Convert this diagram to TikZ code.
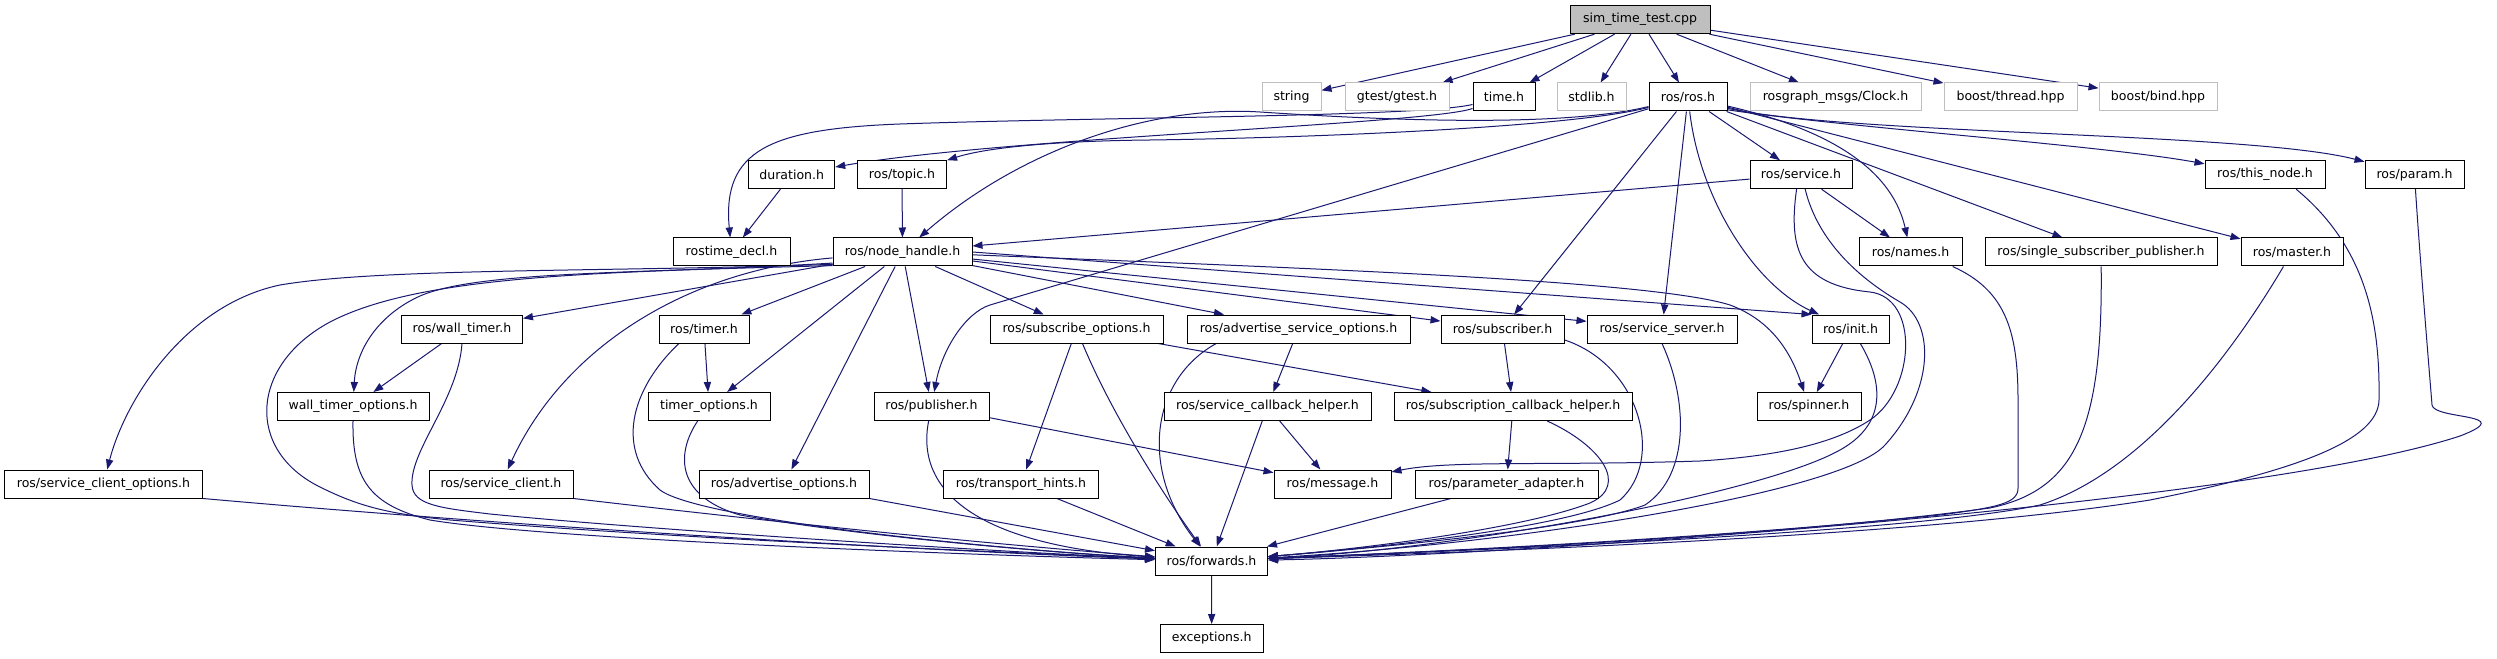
\documentclass[tikz,border=0pt]{standalone}
\usepackage{fontspec}
\setmainfont{DejaVu Sans}
\usetikzlibrary{arrows.meta}
\definecolor{edgeblue}{HTML}{191970}
\definecolor{nofilegrey}{HTML}{BFBFBF}
\pgfdeclarelayer{back}
\pgfsetlayers{back,main}

\tikzset{
  file/.style={draw=black, fill=white, line width=0.75pt, inner sep=0pt,
    minimum height=21pt, font=\fontsize{9.4pt}{11pt}\selectfont},
  nofile/.style={file, draw=nofilegrey},
  root/.style={file, fill=nofilegrey},
  wd/.style={minimum width=#1*0.75pt},
  inc/.style={draw=edgeblue, line width=0.75pt,
    -{Triangle[length=7.5pt,width=5.4pt]}},
}

\begin{document}
\begin{tikzpicture}[x=0.75pt, y=-0.75pt]
    % top file and its includes
    \node[root, wd=140] (sim) at (1640,19.7) {sim\_time\_test.cpp};
    \node[nofile, wd=59] (string) at (1291.5,97) {string};
    \node[nofile, wd=104] (gtest) at (1397,97) {gtest/gtest.h};
    \node[file, wd=62] (time) at (1504,97) {time.h};
    \node[nofile, wd=69] (stdlib) at (1591.5,97) {stdlib.h};
    \node[file, wd=78] (ros) at (1688,97) {ros/ros.h};
    \node[nofile, wd=171] (clock) at (1835.5,97) {rosgraph\_msgs/Clock.h};
    \node[nofile, wd=133] (thread) at (2010.5,97) {boost/thread.hpp};
    \node[nofile, wd=118] (bind) at (2158,97) {boost/bind.hpp};
    % second row
    \node[file, wd=86] (duration) at (791.7,174.7) {duration.h};
    \node[file, wd=89.5] (topic) at (902,174.7) {ros/topic.h};
    \node[file, wd=102] (service) at (1801,174.7) {ros/service.h};
    \node[file, wd=120] (thisnode) at (2265,174.7) {ros/this\_node.h};
    \node[file, wd=99] (param) at (2414.5,174.7) {ros/param.h};
    % third row
    \node[file, wd=117] (rostimedecl) at (731.5,252) {rostime\_decl.h};
    \node[file, wd=139] (nodehandle) at (902.5,252) {ros/node\_handle.h};
    \node[file, wd=103] (names) at (1910.5,252) {ros/names.h};
    \node[file, wd=232] (single) at (2101,252) {ros/single\_subscriber\_publisher.h};
    \node[file, wd=102] (master) at (2292,252) {ros/master.h};
    % fourth row
    \node[file, wd=121] (walltimer) at (462,329) {ros/wall\_timer.h};
    \node[file, wd=90] (timer) at (704,329) {ros/timer.h};
    \node[file, wd=173] (subopts) at (1076.5,329) {ros/subscribe\_options.h};
    \node[file, wd=223] (advsrvopts) at (1298.5,329) {ros/advertise\_service\_options.h};
    \node[file, wd=123] (subscriber) at (1502.5,329) {ros/subscriber.h};
    \node[file, wd=150] (srvserver) at (1662,329) {ros/service\_server.h};
    \node[file, wd=77] (init) at (1850.5,329) {ros/init.h};
    % fifth row
    \node[file, wd=152] (walltimeropts) at (353,406.5) {wall\_timer\_options.h};
    \node[file, wd=122] (timeropts) at (709,406.5) {timer\_options.h};
    \node[file, wd=115] (publisher) at (931.5,406.5) {ros/publisher.h};
    \node[file, wd=207] (srvcbhelper) at (1267.5,406.5) {ros/service\_callback\_helper.h};
    \node[file, wd=238] (subcbhelper) at (1513,406.5) {ros/subscription\_callback\_helper.h};
    \node[file, wd=104] (spinner) at (1809,406.5) {ros/spinner.h};
    % sixth row
    \node[file, wd=198] (srvclientopts) at (103.5,484) {ros/service\_client\_options.h};
    \node[file, wd=144] (srvclient) at (501,484) {ros/service\_client.h};
    \node[file, wd=170] (advopts) at (784,484) {ros/advertise\_options.h};
    \node[file, wd=155] (transport) at (1021,484) {ros/transport\_hints.h};
    \node[file, wd=117] (message) at (1332.5,484) {ros/message.h};
    \node[file, wd=183] (paramadapter) at (1506.5,484) {ros/parameter\_adapter.h};
    % bottom
    \node[file, wd=112] (forwards) at (1211.5,561) {ros/forwards.h};
    \node[file, wd=103] (exceptions) at (1211.7,638.5) {exceptions.h};

    \begin{pgfonlayer}{back}
    \path[use as bounding box, fill=white] (0,0) rectangle (2497,659);
    % includes of the test file
    \foreach \t in {string,gtest,time,stdlib,ros,clock,thread,bind}
        \draw[inc] (sim) -- (\t);
    % time.h
    \draw[inc] (time) .. controls (1430,124) and (1000,138) .. (duration);
    \draw[inc] (time) .. controls (1420,117) and (1100,117) .. (900,124)
        .. controls (770,129) and (722,150) .. (rostimedecl);
    \draw[inc] (duration) -- (rostimedecl);
    % ros/ros.h
    \draw[inc] (ros) .. controls (1570,128) and (1300,138) .. (1150,140)
        .. controls (1050,141) and (985,148) .. (topic);
    \draw[inc] (ros) .. controls (1560,128) and (1380,120) .. (1260,112)
        .. controls (1150,105) and (1020,150) .. (nodehandle);
    \draw[inc] (ros) -- (990,305) .. controls (965,313) and (942,350) .. (publisher);
    \draw[inc] (ros) -- (subscriber);
    \draw[inc] (ros) -- (srvserver);
    \draw[inc] (ros) .. controls (1700,200) and (1755,285) .. (init);
    \draw[inc] (ros) -- (service);
    \draw[inc] (ros) .. controls (1810,125) and (1890,160) .. (names);
    \draw[inc] (ros) -- (single);
    \draw[inc] (ros) -- (master);
    \draw[inc] (ros.-18) .. controls (1850,128) and (2100,145) .. (thisnode);
    \draw[inc] (ros.-16) .. controls (1850,135) and (2250,132) .. (param);
    \draw[inc] (topic) -- (nodehandle);
    % ros/service.h
    \draw[inc] (service) -- (nodehandle);
    \draw[inc] (service) -- (names);
    \draw[inc] (service.-107) .. controls (1788,250) and (1800,285) .. (1870,292)
        .. controls (1920,298) and (1915,390) .. (1870,420)
        .. controls (1835,443) and (1780,456) .. (1700,461)
        .. controls (1550,466) and (1450,460) .. (message);
    \draw[inc] (service.-74) .. controls (1815,230) and (1845,270) .. (1900,302)
        .. controls (1935,322) and (1935,390) .. (1885,445)
        .. controls (1840,495) and (1500,545) .. (forwards);
    % ros/init.h
    \draw[inc] (init) -- (spinner);
    \draw[inc] (init.-56) .. controls (1885,385) and (1885,425) .. (1840,450)
        .. controls (1760,495) and (1450,550) .. (forwards);
    % ros/node_handle.h
    \draw[inc] (nodehandle.190) .. controls (600,272) and (380,268) .. (280,285)
        .. controls (185,305) and (125,400) .. (srvclientopts);
    \draw[inc] (nodehandle.189) .. controls (650,274) and (480,270) .. (420,296)
        .. controls (378,315) and (356,350) .. (walltimeropts);
    \draw[inc] (nodehandle.191) .. controls (600,272) and (420,275) .. (330,322)
        .. controls (250,365) and (245,450) .. (320,487)
        .. controls (360,507) and (390,514) .. (450,520)
        .. controls (700,540) and (1000,552) .. (forwards);
    \draw[inc] (nodehandle) -- (walltimer);
    \draw[inc] (nodehandle) -- (timer);
    \draw[inc] (nodehandle) -- (timeropts);
    \draw[inc] (nodehandle) .. controls (690,270) and (565,345) .. (srvclient);
    \draw[inc] (nodehandle) -- (advopts);
    \draw[inc] (nodehandle) -- (publisher);
    \draw[inc] (nodehandle) -- (subopts);
    \draw[inc] (nodehandle) -- (advsrvopts);
    \draw[inc] (nodehandle) -- (subscriber);
    \draw[inc] (nodehandle) -- (srvserver);
    \draw[inc] (nodehandle.east) -- (init.north west);
    \draw[inc] (nodehandle) .. controls (1300,268) and (1650,280) .. (1730,305)
        .. controls (1770,320) and (1790,350) .. (spinner);
    % timers
    \draw[inc] (walltimer) -- (walltimeropts);
    \draw[inc] (walltimer.south) .. controls (458,400) and (410,450) .. (412,485)
        .. controls (413,505) and (440,508) .. (490,514)
        .. controls (650,530) and (1000,552) .. (forwards);
    \draw[inc] (timer) -- (timeropts);
    \draw[inc] (timer.-150) .. controls (630,390) and (615,450) .. (660,490)
        .. controls (700,520) and (1000,550) .. (forwards);
    \draw[inc] (walltimeropts.south) .. controls (352,480) and (370,505) .. (430,520)
        .. controls (550,540) and (1000,556) .. (forwards);
    \draw[inc] (timeropts.-128) .. controls (678,450) and (672,495) .. (740,515)
        .. controls (850,535) and (1050,553) .. (forwards);
    % lower left files
    \draw[inc] (srvclientopts.south east) .. controls (500,525) and (900,550) .. (forwards);
    \draw[inc] (srvclient.south east) .. controls (800,525) and (1000,545) .. (forwards);
    \draw[inc] (advopts.south east) -- (forwards);
    \draw[inc] (publisher) -- (message);
    \draw[inc] (publisher) .. controls (915,490) and (975,545) .. (forwards);
    % options and helpers
    \draw[inc] (subopts) -- (transport);
    \draw[inc] (subopts) .. controls (1110,410) and (1160,490) .. (forwards);
    \draw[inc] (subopts) -- (subcbhelper);
    \draw[inc] (advsrvopts.190) .. controls (1150,380) and (1140,470) .. (forwards);
    \draw[inc] (advsrvopts) -- (srvcbhelper);
    \draw[inc] (srvcbhelper) -- (message);
    \draw[inc] (srvcbhelper) -- (forwards);
    \draw[inc] (transport) -- (forwards);
    \draw[inc] (paramadapter) -- (forwards);
    \draw[inc] (subscriber) -- (subcbhelper);
    \draw[inc] (subcbhelper) -- (paramadapter);
    \draw[inc] (subcbhelper.-23) .. controls (1600,445) and (1630,485) .. (1590,503)
        .. controls (1520,530) and (1350,550) .. (forwards);
    \draw[inc] (subscriber.-10) .. controls (1640,365) and (1665,460) .. (1620,500)
        .. controls (1560,530) and (1350,550) .. (forwards);
    \draw[inc] (srvserver.south) .. controls (1688,400) and (1690,475) .. (1645,505)
        .. controls (1580,530) and (1350,550) .. (forwards);
    % right hand side files
    \draw[inc] (names.-19) .. controls (2005,290) and (2018,330) .. (2018,400)
        -- (2018,488) .. controls (2018,503) and (2000,507) .. (1940,515)
        .. controls (1700,540) and (1400,553) .. (forwards);
    \draw[inc] (single) .. controls (2103,430) and (2075,490) .. (1990,508)
        .. controls (1750,540) and (1400,553) .. (forwards);
    \draw[inc] (master) .. controls (2240,340) and (2150,470) .. (2040,505)
        .. controls (1900,535) and (1400,553) .. (forwards);
    \draw[inc] (thisnode.-25) .. controls (2370,250) and (2380,330) .. (2379,400)
        .. controls (2378,440) and (2300,470) .. (2150,500)
        .. controls (1900,540) and (1400,554) .. (forwards);
    \draw[inc] (param) .. controls (2420,260) and (2430,380) .. (2432,405)
        .. controls (2434,420) and (2520,413) .. (2460,436)
        .. controls (2250,505) and (1500,556) .. (forwards);
    % last one
    \draw[inc] (forwards) -- (exceptions);
    \end{pgfonlayer}
\end{tikzpicture}
\end{document}
